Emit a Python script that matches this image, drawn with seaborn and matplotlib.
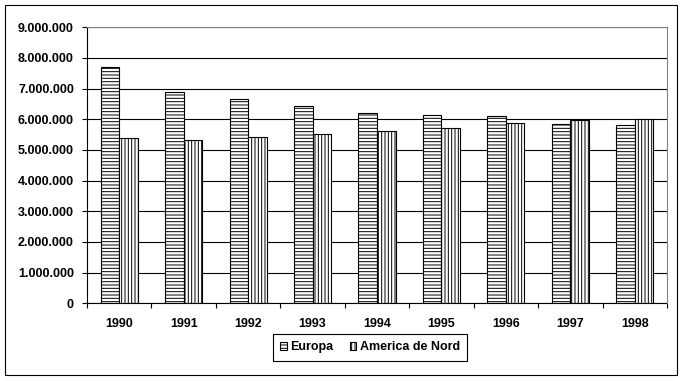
import matplotlib
matplotlib.use('Agg')
import matplotlib.pyplot as plt
import seaborn as sns
import pandas as pd
import numpy as np
from matplotlib.patches import Rectangle, Patch
from matplotlib.ticker import FuncFormatter, FixedLocator

# ---- data ----
years = ['1990', '1991', '1992', '1993', '1994', '1995', '1996', '1997', '1998']
europa = [7700000, 6880000, 6650000, 6420000, 6220000, 6130000, 6100000, 5850000, 5810000]
america = [5380000, 5310000, 5420000, 5510000, 5630000, 5710000, 5870000, 5980000, 6000000]
series_names = ['Europa', 'America de Nord']
y_ticks = [0, 1000000, 2000000, 3000000, 4000000, 5000000, 6000000, 7000000, 8000000, 9000000]

df = pd.DataFrame({
    'An': years + years,
    'Valoare': europa + america,
    'Regiune': [series_names[0]] * len(years) + [series_names[1]] * len(years),
})

sns.set_theme(style='white')
plt.rcParams['font.family'] = ['Liberation Sans', 'DejaVu Sans']
plt.rcParams['font.weight'] = 'bold'
plt.rcParams['hatch.linewidth'] = 0.7
plt.rcParams['hatch.color'] = 'black'

fig = plt.figure(figsize=(6.84, 3.81), dpi=100)
fig.patch.set_facecolor('white')
ax = fig.add_axes([87 / 684, 1 - 303.3 / 381, 580 / 684, 276 / 381])

sns.barplot(data=df, x='An', y='Valoare', hue='Regiune', palette=['white', 'white'],
            edgecolor='black', linewidth=0.8, width=0.575, saturation=1,
            ax=ax, legend=False, errorbar=None)

hatches = ['-----', '|||||']
for cont, h in zip(ax.containers, hatches):
    for bar in cont:
        bar.set_hatch(h)

ax.set_xlim(-0.5, len(years) - 0.5)
ax.set_ylim(0, 9000000)
ax.yaxis.set_major_locator(FixedLocator(y_ticks))
ax.yaxis.set_major_formatter(FuncFormatter(lambda v, p: f"{int(round(v)):,}".replace(',', '.')))
ax.set_xlabel('')
ax.set_ylabel('')

ax.yaxis.grid(True, color='black', linewidth=0.8)
ax.xaxis.grid(False)
ax.set_axisbelow(True)

for side in ['left', 'bottom']:
    ax.spines[side].set_color('black')
    ax.spines[side].set_linewidth(0.8)
for side in ['top', 'right']:
    ax.spines[side].set_color('#808080')
    ax.spines[side].set_linewidth(0.8)
    ax.spines[side].set_zorder(3)

ax.tick_params(axis='y', left=True, length=3.6, width=0.8, color='black', pad=5.8,
               labelsize=9, labelcolor='black')
ax.tick_params(axis='x', which='major', bottom=True, length=0, pad=10.5,
               labelsize=9, labelcolor='black')
ax.set_xticks(np.arange(-0.5, len(years), 1), minor=True)
ax.tick_params(axis='x', which='minor', bottom=True, length=3.6, width=0.8, color='black')
for lbl in ax.get_xticklabels() + ax.get_yticklabels():
    lbl.set_fontweight('bold')

handles = [Patch(facecolor='white', edgecolor='black', hatch=h, linewidth=0.8) for h in hatches]
leg = fig.legend(handles, series_names, loc='center', bbox_to_anchor=(370 / 684, 1 - 347 / 381),
                 ncol=2, frameon=True, fancybox=False, edgecolor='black', framealpha=1,
                 handlelength=0.5, handleheight=0.6, handletextpad=0.3, columnspacing=1.3,
                 borderpad=0.6, prop={'weight': 'bold', 'size': 9})
leg.get_frame().set_linewidth(0.8)
for t in leg.get_texts():
    t.set_color('black')

fig.add_artist(Rectangle((5 / 684, 6 / 381), 672 / 684, 370 / 381, transform=fig.transFigure,
                         fill=False, edgecolor='black', linewidth=0.8))

fig.savefig('out.png', dpi=100)
